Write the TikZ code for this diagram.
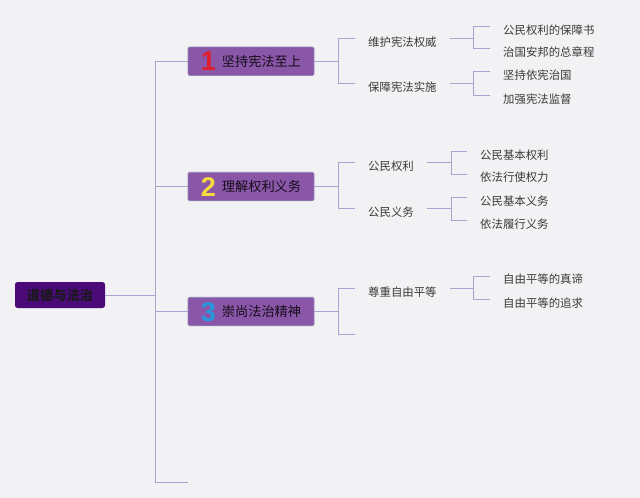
\documentclass[tikz,border=0pt]{standalone}
\usepackage{fontspec}
\setmainfont{Noto Sans CJK SC}
\newfontfamily\numfont{Liberation Sans}
\usetikzlibrary{positioning}
\definecolor{bg}{HTML}{F2F1F4}
\definecolor{rootc}{HTML}{4A0A78}
\definecolor{boxc}{HTML}{8A56A8}
\definecolor{boxb}{HTML}{8E86B4}
\definecolor{linec}{HTML}{A9A3D2}
\definecolor{txt}{HTML}{3A3A3A}
\definecolor{numr}{HTML}{E01E2E}
\definecolor{numy}{HTML}{F4DA3C}
\definecolor{numb}{HTML}{2898DC}
\tikzset{
  rootbox/.style={fill=rootc, rounded corners=2.5pt, minimum width=90pt, minimum height=26pt, inner sep=0pt,
    font=\fontsize{13.2}{15}\selectfont\bfseries, text=black!90},
  mainbox/.style={fill=boxc, draw=boxb, line width=0.8pt, rounded corners=1.5pt, minimum width=126pt, minimum height=28.5pt, inner sep=0pt,
    font=\fontsize{13.2}{15}\selectfont, text=black!85!boxc},
  sublabel/.style={anchor=west, inner xsep=13pt, inner ysep=0pt, font=\fontsize{11.4}{13}\selectfont, text=txt},
  leaf/.style={anchor=west, inner xsep=13pt, inner ysep=0pt, font=\fontsize{11.4}{13}\selectfont, text=txt},
  conn/.style={draw=linec, line width=0.9pt}
}
\newcommand{\bignum}[2]{\smash{\raisebox{-4.5pt}{\numfont\bfseries\fontsize{27}{27}\selectfont\color{#1}#2}}\hspace{6pt}}
\begin{document}
\begin{tikzpicture}[x=1pt,y=-1pt]
\fill[bg] (0,0) rectangle (640,498);
\useasboundingbox (0,0) rectangle (640,498);

% root and main branches
\node[rootbox] (root) at (60,295) {道德与法治};
\node[mainbox] (b1) at (251,61.3) {\bignum{numr}{1}坚持宪法至上};
\node[mainbox] (b2) at (251,186.5) {\bignum{numy}{2}理解权利义务};
\node[mainbox] (b3) at (251,311.5) {\bignum{numb}{3}崇尚法治精神};
\coordinate (e4) at (188,482);

\draw[conn] (root.east) -- ++(50,0) |- (b1.west);
\draw[conn] (root.east) -- ++(50,0) |- (b2.west);
\draw[conn] (root.east) -- ++(50,0) |- (b3.west);
\draw[conn] (root.east) -- ++(50,0) |- (e4);

% branch 1
\node[sublabel] (l11) at (355,41.7) {维护宪法权威};
\node[sublabel] (l12) at (355,87) {保障宪法实施};
\node[leaf] (f111) at (490,29.7) {公民权利的保障书};
\node[leaf] (f112) at (490,52) {治国安邦的总章程};
\node[leaf] (f121) at (490,75.3) {坚持依宪治国};
\node[leaf] (f122) at (490,98.7) {加强宪法监督};

\draw[conn] (b1.east) -- ++(24,0) |- ([yshift=3.4pt]l11.west);
\draw[conn] (b1.east) -- ++(24,0) |- ([yshift=3.4pt]l12.west);
\draw[conn] ([yshift=3.4pt]l11.east) -- ++(24,0) |- ([yshift=3.4pt]f111.west);
\draw[conn] ([yshift=3.4pt]l11.east) -- ++(24,0) |- ([yshift=3.4pt]f112.west);
\draw[conn] ([yshift=3.4pt]l12.east) -- ++(24,0) |- ([yshift=3.4pt]f121.west);
\draw[conn] ([yshift=3.4pt]l12.east) -- ++(24,0) |- ([yshift=3.4pt]f122.west);

% branch 2
\node[sublabel] (l21) at (355,166.3) {公民权利};
\node[sublabel] (l22) at (355,212.3) {公民义务};
\node[leaf] (f211) at (467,155) {公民基本权利};
\node[leaf] (f212) at (467,177.5) {依法行使权力};
\node[leaf] (f221) at (467,201.3) {公民基本义务};
\node[leaf] (f222) at (467,224) {依法履行义务};

\draw[conn] (b2.east) -- ++(24,0) |- ([yshift=3.4pt]l21.west);
\draw[conn] (b2.east) -- ++(24,0) |- ([yshift=3.4pt]l22.west);
\draw[conn] ([yshift=3.4pt]l21.east) -- ++(24,0) |- ([yshift=3.4pt]f211.west);
\draw[conn] ([yshift=3.4pt]l21.east) -- ++(24,0) |- ([yshift=3.4pt]f212.west);
\draw[conn] ([yshift=3.4pt]l22.east) -- ++(24,0) |- ([yshift=3.4pt]f221.west);
\draw[conn] ([yshift=3.4pt]l22.east) -- ++(24,0) |- ([yshift=3.4pt]f222.west);

% branch 3
\node[sublabel] (l31) at (355,291.7) {尊重自由平等};
\coordinate (e32) at (355,334);
\node[leaf] (f311) at (490,279.5) {自由平等的真谛};
\node[leaf] (f312) at (490,303) {自由平等的追求};

\draw[conn] (b3.east) -- ++(24,0) |- ([yshift=3.4pt]l31.west);
\draw[conn] (b3.east) -- ++(24,0) |- (e32);
\draw[conn] ([yshift=3.4pt]l31.east) -- ++(24,0) |- ([yshift=3.4pt]f311.west);
\draw[conn] ([yshift=3.4pt]l31.east) -- ++(24,0) |- ([yshift=3.4pt]f312.west);
\end{tikzpicture}
\end{document}
